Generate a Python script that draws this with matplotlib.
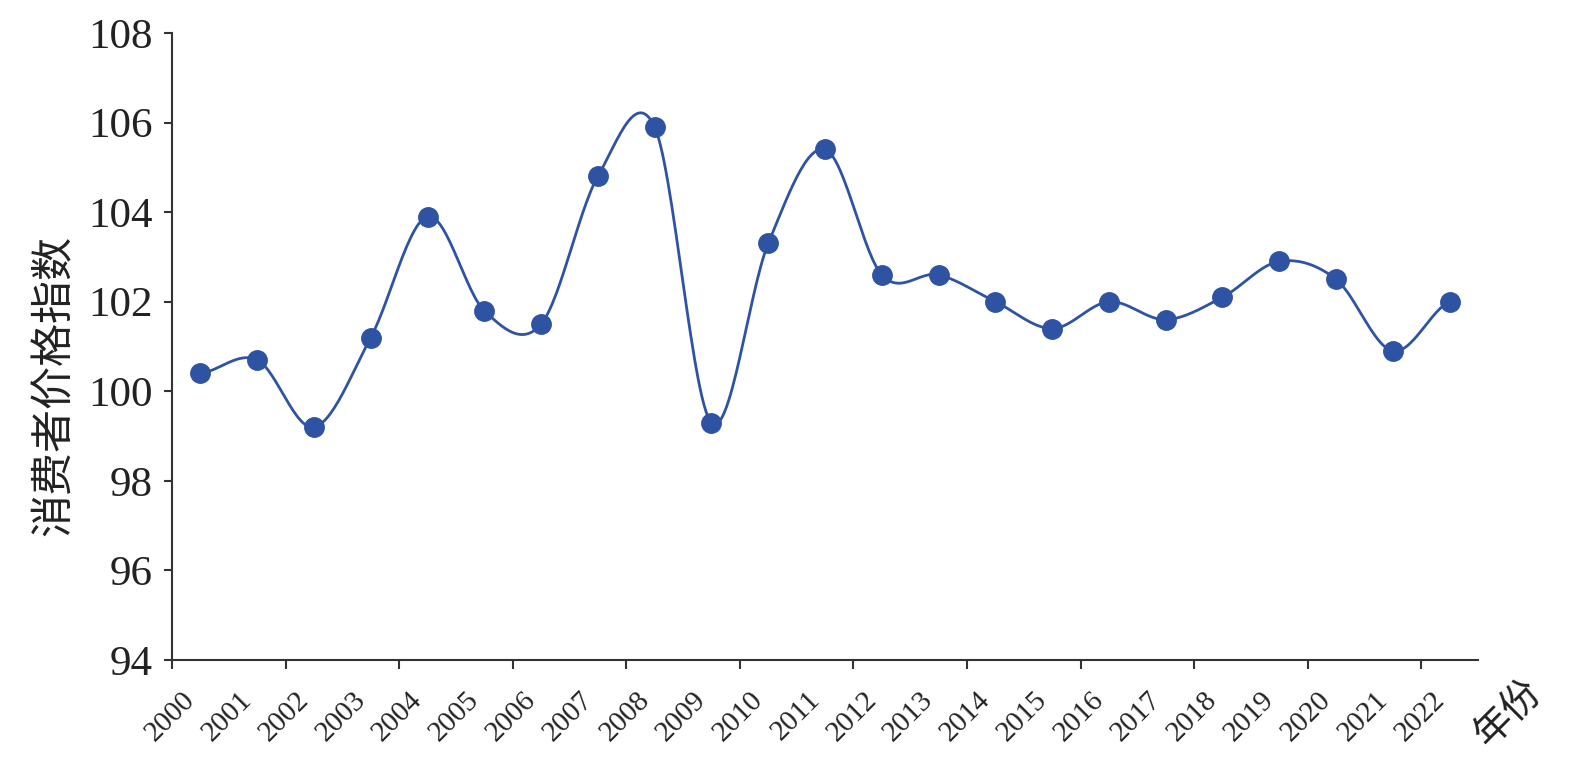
import numpy as np
import matplotlib.pyplot as plt

years = [str(y) for y in range(2000, 2023)]
cpi = [100.4, 100.7, 99.2, 101.2, 103.9, 101.8, 101.5, 104.8, 105.9, 99.3,
       103.3, 105.4, 102.6, 102.6, 102.0, 101.4, 102.0, 101.6, 102.1, 102.9,
       102.5, 100.9, 102.0]
y_ticks = [94, 96, 98, 100, 102, 104, 106, 108]

line_color = "#2f53a3"
axis_color = "#333333"
num_font = ["Liberation Serif", "Noto Sans CJK SC"]
cjk_font = ["Noto Sans CJK SC", "Liberation Serif"]


def smooth(y, n=30):
    # catmull-rom style smoothing between the points (like a spreadsheet smoothed line)
    y = np.asarray(y, dtype=float)
    p = np.concatenate([[y[0]], y, [y[-1]]])
    xs, ys = [], []
    for i in range(len(y) - 1):
        p0, p1, p2, p3 = p[i], p[i + 1], p[i + 2], p[i + 3]
        t = np.linspace(0, 1, n, endpoint=False)
        seg = 0.5 * ((2 * p1) + (-p0 + p2) * t + (2 * p0 - 5 * p1 + 4 * p2 - p3) * t ** 2
                     + (-p0 + 3 * p1 - 3 * p2 + p3) * t ** 3)
        xs.append(i + t)
        ys.append(seg)
    xs.append([len(y) - 1])
    ys.append([y[-1]])
    return np.concatenate(xs), np.concatenate(ys)


fig = plt.figure(figsize=(15.74, 7.63), dpi=100)
ax = fig.add_axes([172 / 1574, 1 - 660 / 763, (1478 - 172) / 1574, (660 - 33) / 763])

x = np.arange(len(years))
sx, sy = smooth(cpi)
ax.plot(sx, sy, color=line_color, lw=2.0)
ax.plot(x, cpi, "o", color=line_color, ms=14)

ax.set_xlim(-0.5, len(years) - 0.5)
ax.set_ylim(94, 108)
ax.set_yticks(y_ticks)
ax.set_yticklabels([str(v) for v in y_ticks], fontfamily=num_font, fontsize=31, color="#222222")

ax.set_xticks(np.arange(-0.5, len(years) - 1, 2))
ax.set_xticklabels([])
ax.set_xticks(x, minor=True)
ax.set_xticklabels(years, minor=True, rotation=45, ha="right", va="top",
                   fontfamily=num_font, fontsize=21, color="#222222")

ax.tick_params(axis="x", which="major", direction="out", length=6.5, width=1.5, color=axis_color)
ax.tick_params(axis="x", which="minor", length=0, pad=19)
ax.tick_params(axis="y", direction="out", length=6, width=1.5, color=axis_color, pad=8)

for s in ["top", "right"]:
    ax.spines[s].set_visible(False)
for s in ["left", "bottom"]:
    ax.spines[s].set_linewidth(1.5)
    ax.spines[s].set_color(axis_color)

fig.text(55 / 1574, 1 - 385 / 763, "消费者价格指数", rotation=90, ha="center", va="center",
         fontfamily=cjk_font, fontsize=31, color="#222222")
fig.text(1508 / 1574, 1 - 714 / 763, "年份", rotation=45, ha="center", va="center",
         fontfamily=cjk_font, fontsize=28, color="#222222")

fig.savefig("out.png", dpi=100)
